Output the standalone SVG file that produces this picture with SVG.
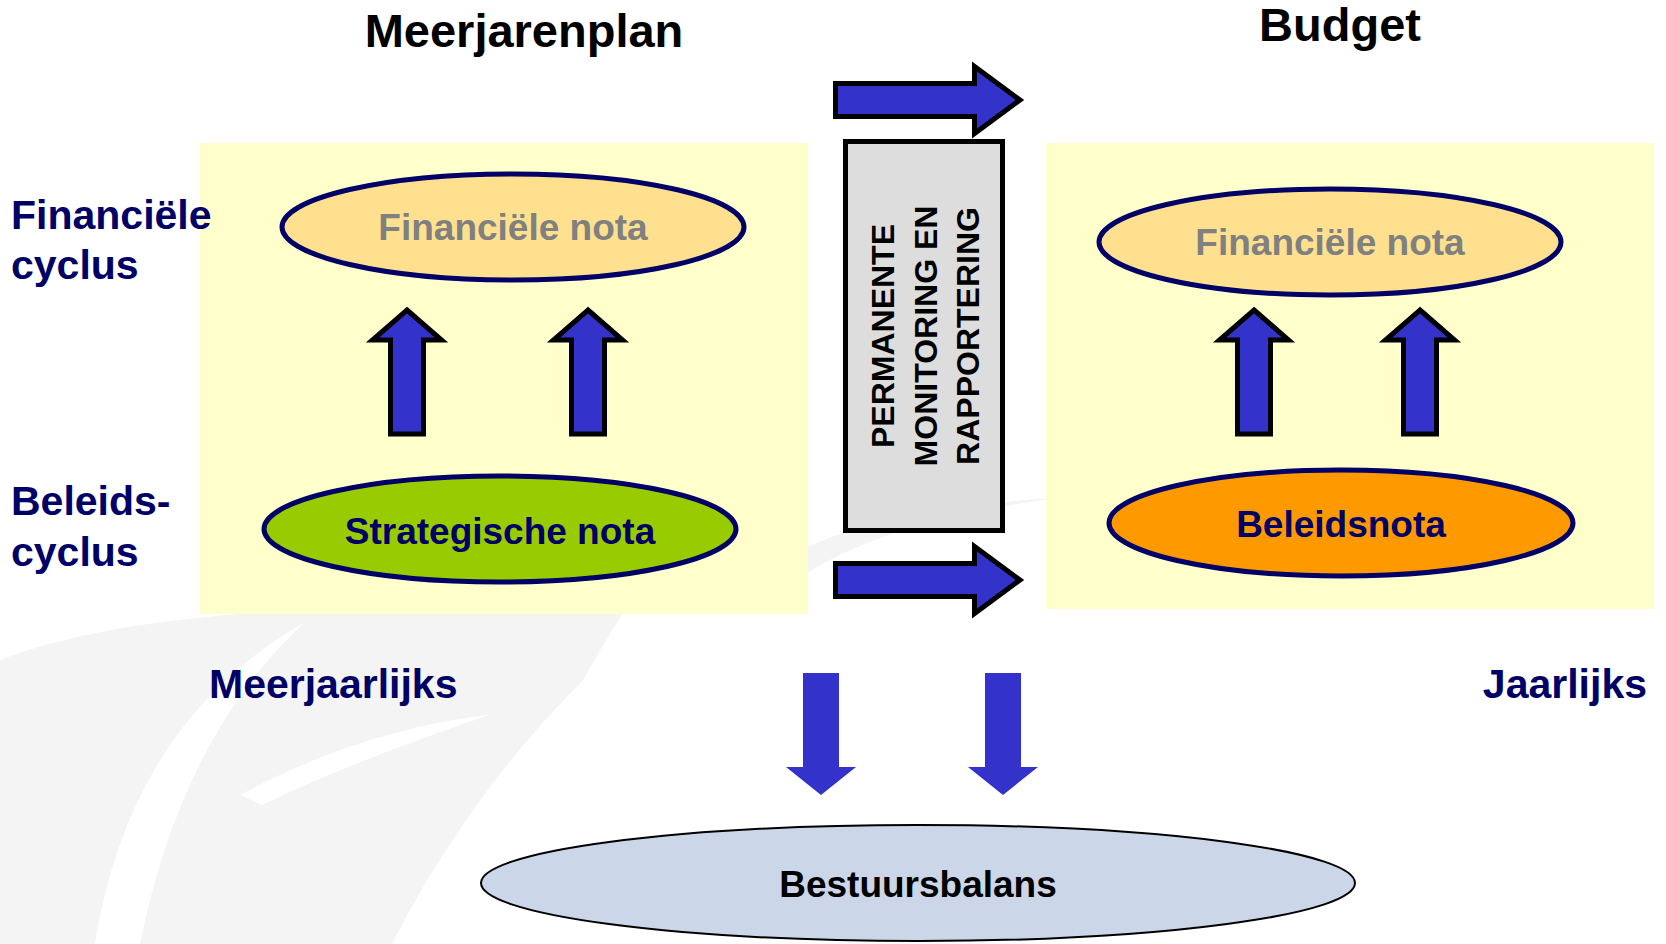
<svg xmlns="http://www.w3.org/2000/svg" width="1666" height="944" viewBox="0 0 1666 944">
<style>
  .t { font-family: "Liberation Sans", Arial, sans-serif; font-weight: bold; }
  .navy { fill: #000066; }
  .lbl { font-size: 41px; }
  .node { font-size: 37px; text-anchor: middle; }
  .title { font-size: 47px; fill: #000000; text-anchor: middle; }
  .vert { font-size: 32px; fill: #000000; text-anchor: middle; }
  .box { fill: #FFFFCC; }
  .ell { stroke: #000066; stroke-width: 5; }
  .barrow { fill: #3333CC; stroke: #000000; stroke-width: 5; stroke-linejoin: miter; }
  .darrow { fill: #3333CC; }
  .wm { fill: #F4F4F4; }
  .wmw { fill: #FFFFFF; }
</style>
<defs>
  <path id="upArrow" d="M0,0 L34.5,30 L16.5,30 L16.5,124 L-16.5,124 L-16.5,30 L-34.5,30 Z"/>
  <path id="rightArrow" d="M0,-16.5 L139,-16.5 L139,-33.5 L184.5,0 L139,33.5 L139,16.5 L0,16.5 Z"/>
  <path id="downArrow" d="M-18,0 L18,0 L18,94 L35,94 L0,122 L-35,94 L-18,94 Z"/>
</defs>
<rect width="1666" height="944" fill="#FFFFFF"/>
<g id="watermark">
  <path class="wm" d="M0,660 C120,615 300,600 625,610 C580,680 520,790 470,944 L0,944 Z"/>
  <path class="wmw" d="M95,944 C115,820 170,700 305,622 C215,705 165,820 140,944 Z"/>
  <path class="wmw" d="M240,795 C320,752 400,726 492,714 C410,742 330,772 262,805 Z"/>
  <path class="wmw" d="M392,944 C450,830 530,725 618,648 C585,720 548,820 520,944 Z"/>
  <path class="wm" d="M745,585 C810,530 920,506 1055,498 C935,516 850,540 790,585 Z"/>
</g>
<g id="panel-meerjarenplan"><rect class="box" x="200" y="143" width="608" height="471"/></g>
<g id="panel-budget"><rect class="box" x="1046" y="143" width="608" height="466"/></g>

<g id="title-meerjarenplan"><text class="t title" x="524" y="47">Meerjarenplan</text></g>
<g id="title-budget"><text class="t title" x="1340" y="41">Budget</text></g>

<g id="label-financiele-cyclus"><text class="t navy lbl" x="11" y="229">Financiële</text><text class="t navy lbl" x="11" y="279">cyclus</text></g>
<g id="label-beleidscyclus"><text class="t navy lbl" x="11" y="515">Beleids-</text><text class="t navy lbl" x="11" y="566">cyclus</text></g>
<g id="label-meerjaarlijks"><text class="t navy lbl" x="209" y="698">Meerjaarlijks</text></g>
<g id="label-jaarlijks"><text class="t navy lbl" x="1647" y="698" text-anchor="end">Jaarlijks</text></g>

<g id="monitoring">
  <rect x="845.5" y="141.5" width="157" height="389" fill="#DDDDDD" stroke="#000000" stroke-width="5"/>
  <text class="t vert" transform="translate(894,336) rotate(-90)">PERMANENTE</text>
  <text class="t vert" transform="translate(937,336) rotate(-90)">MONITORING EN</text>
  <text class="t vert" transform="translate(979,336) rotate(-90)">RAPPORTERING</text>
</g>

<g id="fin-nota-mjp">
  <ellipse class="ell" cx="513" cy="227" rx="231" ry="53" fill="#FFE08F"/>
  <text class="t node" x="513" y="240" fill="#808080">Financiële nota</text>
</g>
<g id="strategische-nota">
  <ellipse class="ell" cx="500" cy="529" rx="236" ry="53" fill="#99CC00"/>
  <text class="t node navy" x="500" y="544">Strategische nota</text>
</g>
<g id="fin-nota-budget">
  <ellipse class="ell" cx="1330" cy="242" rx="231" ry="53" fill="#FFE08F"/>
  <text class="t node" x="1330" y="255" fill="#808080">Financiële nota</text>
</g>
<g id="beleidsnota">
  <ellipse class="ell" cx="1341" cy="523" rx="232" ry="53" fill="#FF9900"/>
  <text class="t node navy" x="1341" y="537">Beleidsnota</text>
</g>
<g id="bestuursbalans">
  <ellipse cx="918" cy="883" rx="437" ry="58" fill="#CBD6E9" stroke="#000000" stroke-width="2"/>
  <text class="t node" x="918" y="897" fill="#000000">Bestuursbalans</text>
</g>

<g id="connectors">
  <use href="#upArrow" class="barrow" transform="translate(407,310)"/>
  <use href="#upArrow" class="barrow" transform="translate(588,310)"/>
  <use href="#upArrow" class="barrow" transform="translate(1254,310)"/>
  <use href="#upArrow" class="barrow" transform="translate(1420,310)"/>
  <use href="#rightArrow" class="barrow" transform="translate(835.5,100)"/>
  <use href="#rightArrow" class="barrow" transform="translate(835.5,580)"/>
  <use href="#downArrow" class="darrow" transform="translate(821,673)"/>
  <use href="#downArrow" class="darrow" transform="translate(1003,673)"/>
</g>
</svg>
